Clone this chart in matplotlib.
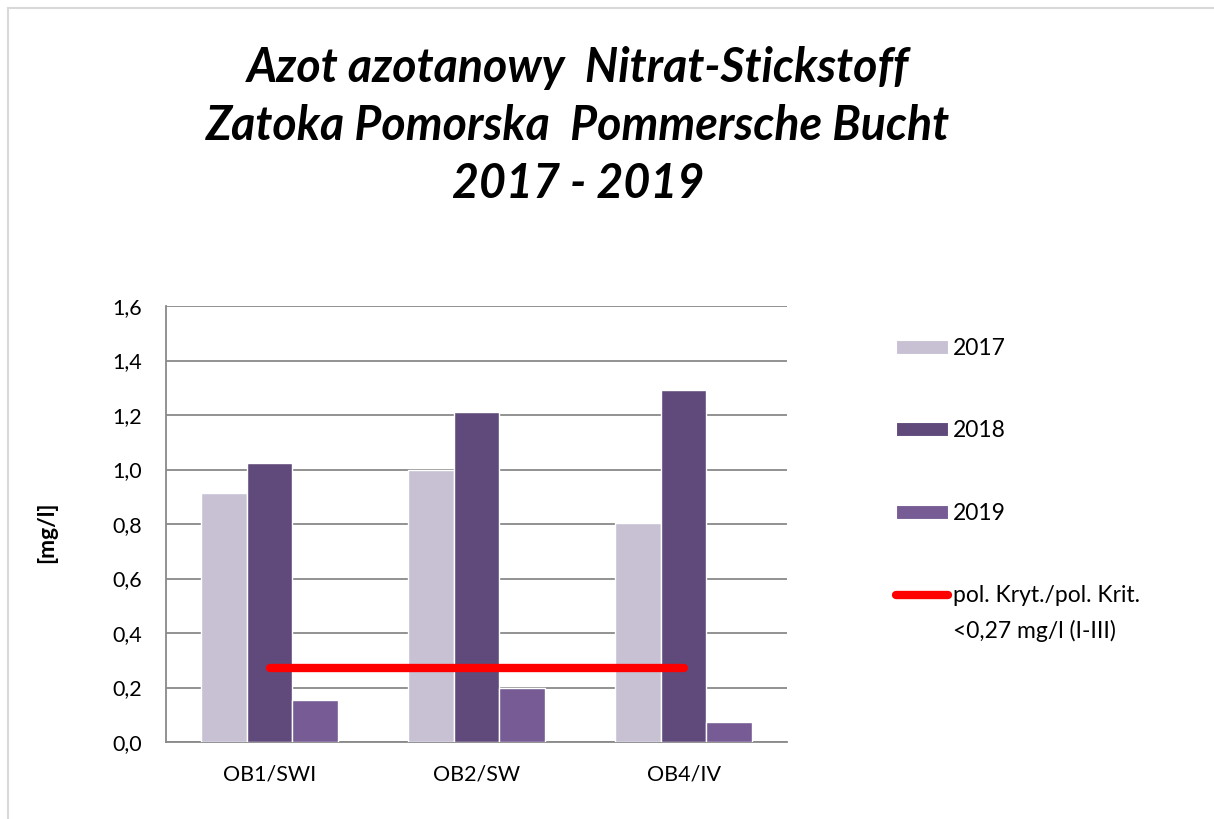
import matplotlib
matplotlib.use("Agg")
import matplotlib.pyplot as plt
import numpy as np
from matplotlib.lines import Line2D
from matplotlib.patches import Patch

plt.rcParams['font.family'] = ['Lato', 'DejaVu Sans']

categories = ["OB1/SWI", "OB2/SW", "OB4/IV"]
years = ["2017", "2018", "2019"]
values_2017 = [0.915, 1.00, 0.805]
values_2018 = [1.025, 1.21, 1.29]
values_2019 = [0.155, 0.20, 0.073]
limit_value = 0.27
limit_label_1 = "pol. Kryt./pol. Krit."
limit_label_2 = "<0,27 mg/l (I-III)"
yticks = [0.0, 0.2, 0.4, 0.6, 0.8, 1.0, 1.2, 1.4, 1.6]
title = "Azot azotanowy  Nitrat-Stickstoff\nZatoka Pomorska  Pommersche Bucht\n2017 - 2019"

colors = ["#C8C1D4", "#604A7B", "#765B94"]
W, H = 1214, 819
fig = plt.figure(figsize=(W / 100, H / 100), dpi=100)
ax = fig.add_axes([166 / W, 1 - 742 / H, (787 - 166) / W, (742 - 306) / H])

x = np.arange(len(categories))
bw = 0.22
series = [values_2017, values_2018, values_2019]
handles = []
for i, (vals, c, lab) in enumerate(zip(series, colors, years)):
    ax.bar(x + (i - 1) * bw, vals, width=bw, color=c, edgecolor="white",
           linewidth=1.0, zorder=3, label=lab)
    handles.append(Patch(facecolor=c, edgecolor="white", linewidth=0.8, label=lab))

ax.plot(x, [limit_value] * len(x), color="#FF0000", linewidth=6,
        solid_capstyle="round", zorder=4)
handles.append(Line2D([0], [0], color="#FF0000", linewidth=6,
                      solid_capstyle="round", label=limit_label_1))

ax.set_xlim(-0.5, len(categories) - 0.5)
ax.set_ylim(0, 1.6)
ax.set_yticks(yticks)
ax.set_yticklabels([f"{v:.1f}".replace(".", ",") for v in yticks])
ax.set_xticks(x)
ax.set_xticklabels(categories)
ax.tick_params(axis="y", length=0, pad=17, labelsize=15.5, labelcolor="#000000")
ax.tick_params(axis="x", length=0, pad=16, labelsize=15.5, labelcolor="#000000")
ax.grid(axis="y", color="#898989", linewidth=1.3, zorder=0)
ax.set_axisbelow(True)
for s in ["top", "right"]:
    ax.spines[s].set_visible(False)
for s in ["left", "bottom"]:
    ax.spines[s].set_color("#898989")
    ax.spines[s].set_linewidth(1.3)

fig.text(47 / W, 1 - 532 / H, "[mg/l]", rotation=90, fontsize=16.5,
         fontweight="bold", ha="center", va="center")

fig.text(578 / W, 1 - 126 / H, title, fontsize=33.5, fontweight="bold",
         fontstyle="italic", ha="center", va="center", linespacing=1.39)

fs_leg = 16.5
leg = fig.legend(handles=handles, loc="upper left",
                 bbox_to_anchor=(896 / W, 1 - 338 / H), frameon=False,
                 fontsize=fs_leg, handlelength=2.27, handleheight=0.54,
                 handletextpad=0.22, labelspacing=2.68, borderpad=0,
                 borderaxespad=0)

fig.canvas.draw()
last = leg.get_texts()[-1]
bb = last.get_window_extent()
fig.text(bb.x0 / W, (bb.y0 - 36) / H, limit_label_2, fontsize=fs_leg,
         ha="left", va="bottom")

# chart area border
fig.add_artist(Line2D([8 / W, 8 / W], [0, 1 - 8 / H], color="#D9D9D9", linewidth=1.5))
fig.add_artist(Line2D([8 / W, 1], [1 - 8 / H, 1 - 8 / H], color="#D9D9D9", linewidth=1.5))

fig.savefig("out.png", dpi=100)
